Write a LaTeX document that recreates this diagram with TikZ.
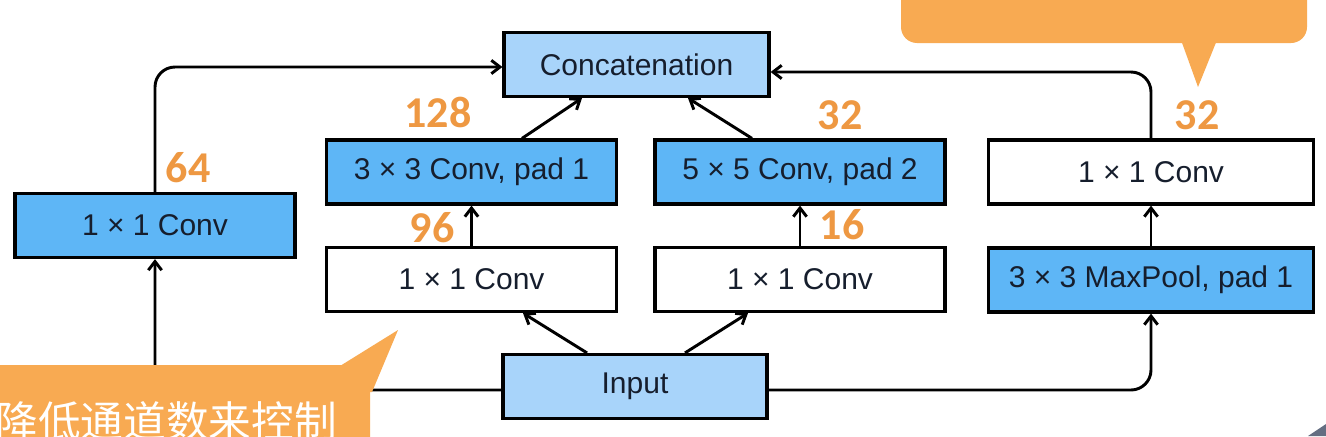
\documentclass[tikz,border=0pt]{standalone}
\usepackage{fontspec}
\setmainfont{Liberation Sans}
\newfontfamily\numfont{Carlito}
\newfontfamily\cjk{Noto Sans CJK SC}
\usetikzlibrary{arrows.meta,calc}
\definecolor{boxblue}{RGB}{94,182,246}
\definecolor{lightblue}{RGB}{168,212,250}
\definecolor{callorange}{RGB}{248,170,82}
\definecolor{numorange}{RGB}{238,152,66}
\definecolor{boxtext}{RGB}{22,30,45}
\definecolor{cornergrey}{RGB}{100,110,130}
\tikzset{
  layer/.style={draw=black, line width=2.4pt, rectangle, inner sep=0pt,
    minimum height=48pt, text=boxtext, font=\fontsize{22.5}{26}\selectfont},
  darklayer/.style={layer, fill=boxblue},
  lightlayer/.style={layer, fill=lightblue},
  plainlayer/.style={layer, fill=white},
  arr/.style={line width=2.2pt, -{Straight Barb[length=6.5pt,width=10pt,line width=2.2pt]}},
  num/.style={text=numorange, inner sep=0pt, font=\numfont\bfseries\fontsize{33}{36}\selectfont},
  callout/.style={fill=callorange, draw=none}
}
\begin{document}
\begin{tikzpicture}[x=0.75pt,y=-0.75pt]
\useasboundingbox (0,0) rectangle (1326,436);
\fill[white] (0,0) rectangle (1326,436);

% boxes
\node[lightlayer, minimum width=198.75pt] (concat) at (636.5,64.5) {Concatenation};
\node[darklayer, minimum width=210pt] (c1) at (155,225.5) {1 × 1 Conv};
\node[darklayer, minimum width=217pt] (c3) at (471.5,172) {3 × 3 Conv, pad 1};
\node[plainlayer, minimum width=217pt] (r3) at (471.5,279.5) {1 × 1 Conv};
\node[darklayer, minimum width=217.5pt] (c5) at (800,172) {5 × 5 Conv, pad 2};
\node[plainlayer, minimum width=217.5pt] (r5) at (800,279.5) {1 × 1 Conv};
\node[plainlayer, minimum width=243.75pt] (rp) at (1151,172) {1 × 1 Conv};
\node[darklayer, minimum width=243.75pt] (pool) at (1151,280) {3 × 3 MaxPool, pad 1};
\node[lightlayer, minimum width=198pt] (input) at (635,386.5) {Input};

% connectors
\draw[arr] ($(c3.north)+(50.5,0)$) -- ($(concat.south)+(-54.5,0)$);
\draw[arr] ($(c5.north)+(-48,0)$) -- ($(concat.south)+(51.5,0)$);
\draw[arr] (r3.north) -- (c3.south);
\draw[arr] (r5.north) -- (c5.south);
\draw[arr] (pool.north) -- (rp.south);
\draw[arr] ($(input.north)+(-48,0)$) -- ($(r3.south)+(51.5,0)$);
\draw[arr] ($(input.north)+(50,0)$) -- ($(r5.south)+(-52,0)$);
\draw[arr, rounded corners=15pt] ($(input.east)+(0,3.5)$) -| (pool.south);
\draw[arr, rounded corners=15pt] ($(input.west)+(0,3.5)$) -| (c1.south);
\draw[arr, rounded corners=15pt] (c1.north) |- ($(concat.west)+(0,2.5)$);
\draw[arr, rounded corners=15pt] (rp.north) |- ($(concat.east)+(0,7.5)$);

% channel numbers
\node[num] (n64) at (188,168) {64};
\node[num] (n128) at (438,112) {128};
\node[num] (n96) at (432,228) {96};
\node[num] (n32a) at (840,115) {32};
\node[num] (n16) at (842,225) {16};
\node[num] (n32b) at (1197,115) {32};

% callouts
\fill[callout, rounded corners=12pt] (901,-40) rectangle (1307,43);
\fill[callout] (1181,40) -- (1217,40) -- (1198,87) -- cycle;
\fill[callout, rounded corners=10pt] (-30,365) rectangle (370,470);
\fill[callout] (340,366) -- (398,330) -- (372,392) -- (355,392) -- cycle;
\node[anchor=base west, inner sep=0pt, text=white, font=\cjk\fontsize{32}{36}\selectfont] (note) at (-4.7,437) {降低通道数来控制};

% corner
\fill[cornergrey] (1308,436) -- (1326,424) -- (1326,436) -- cycle;
\end{tikzpicture}
\end{document}
